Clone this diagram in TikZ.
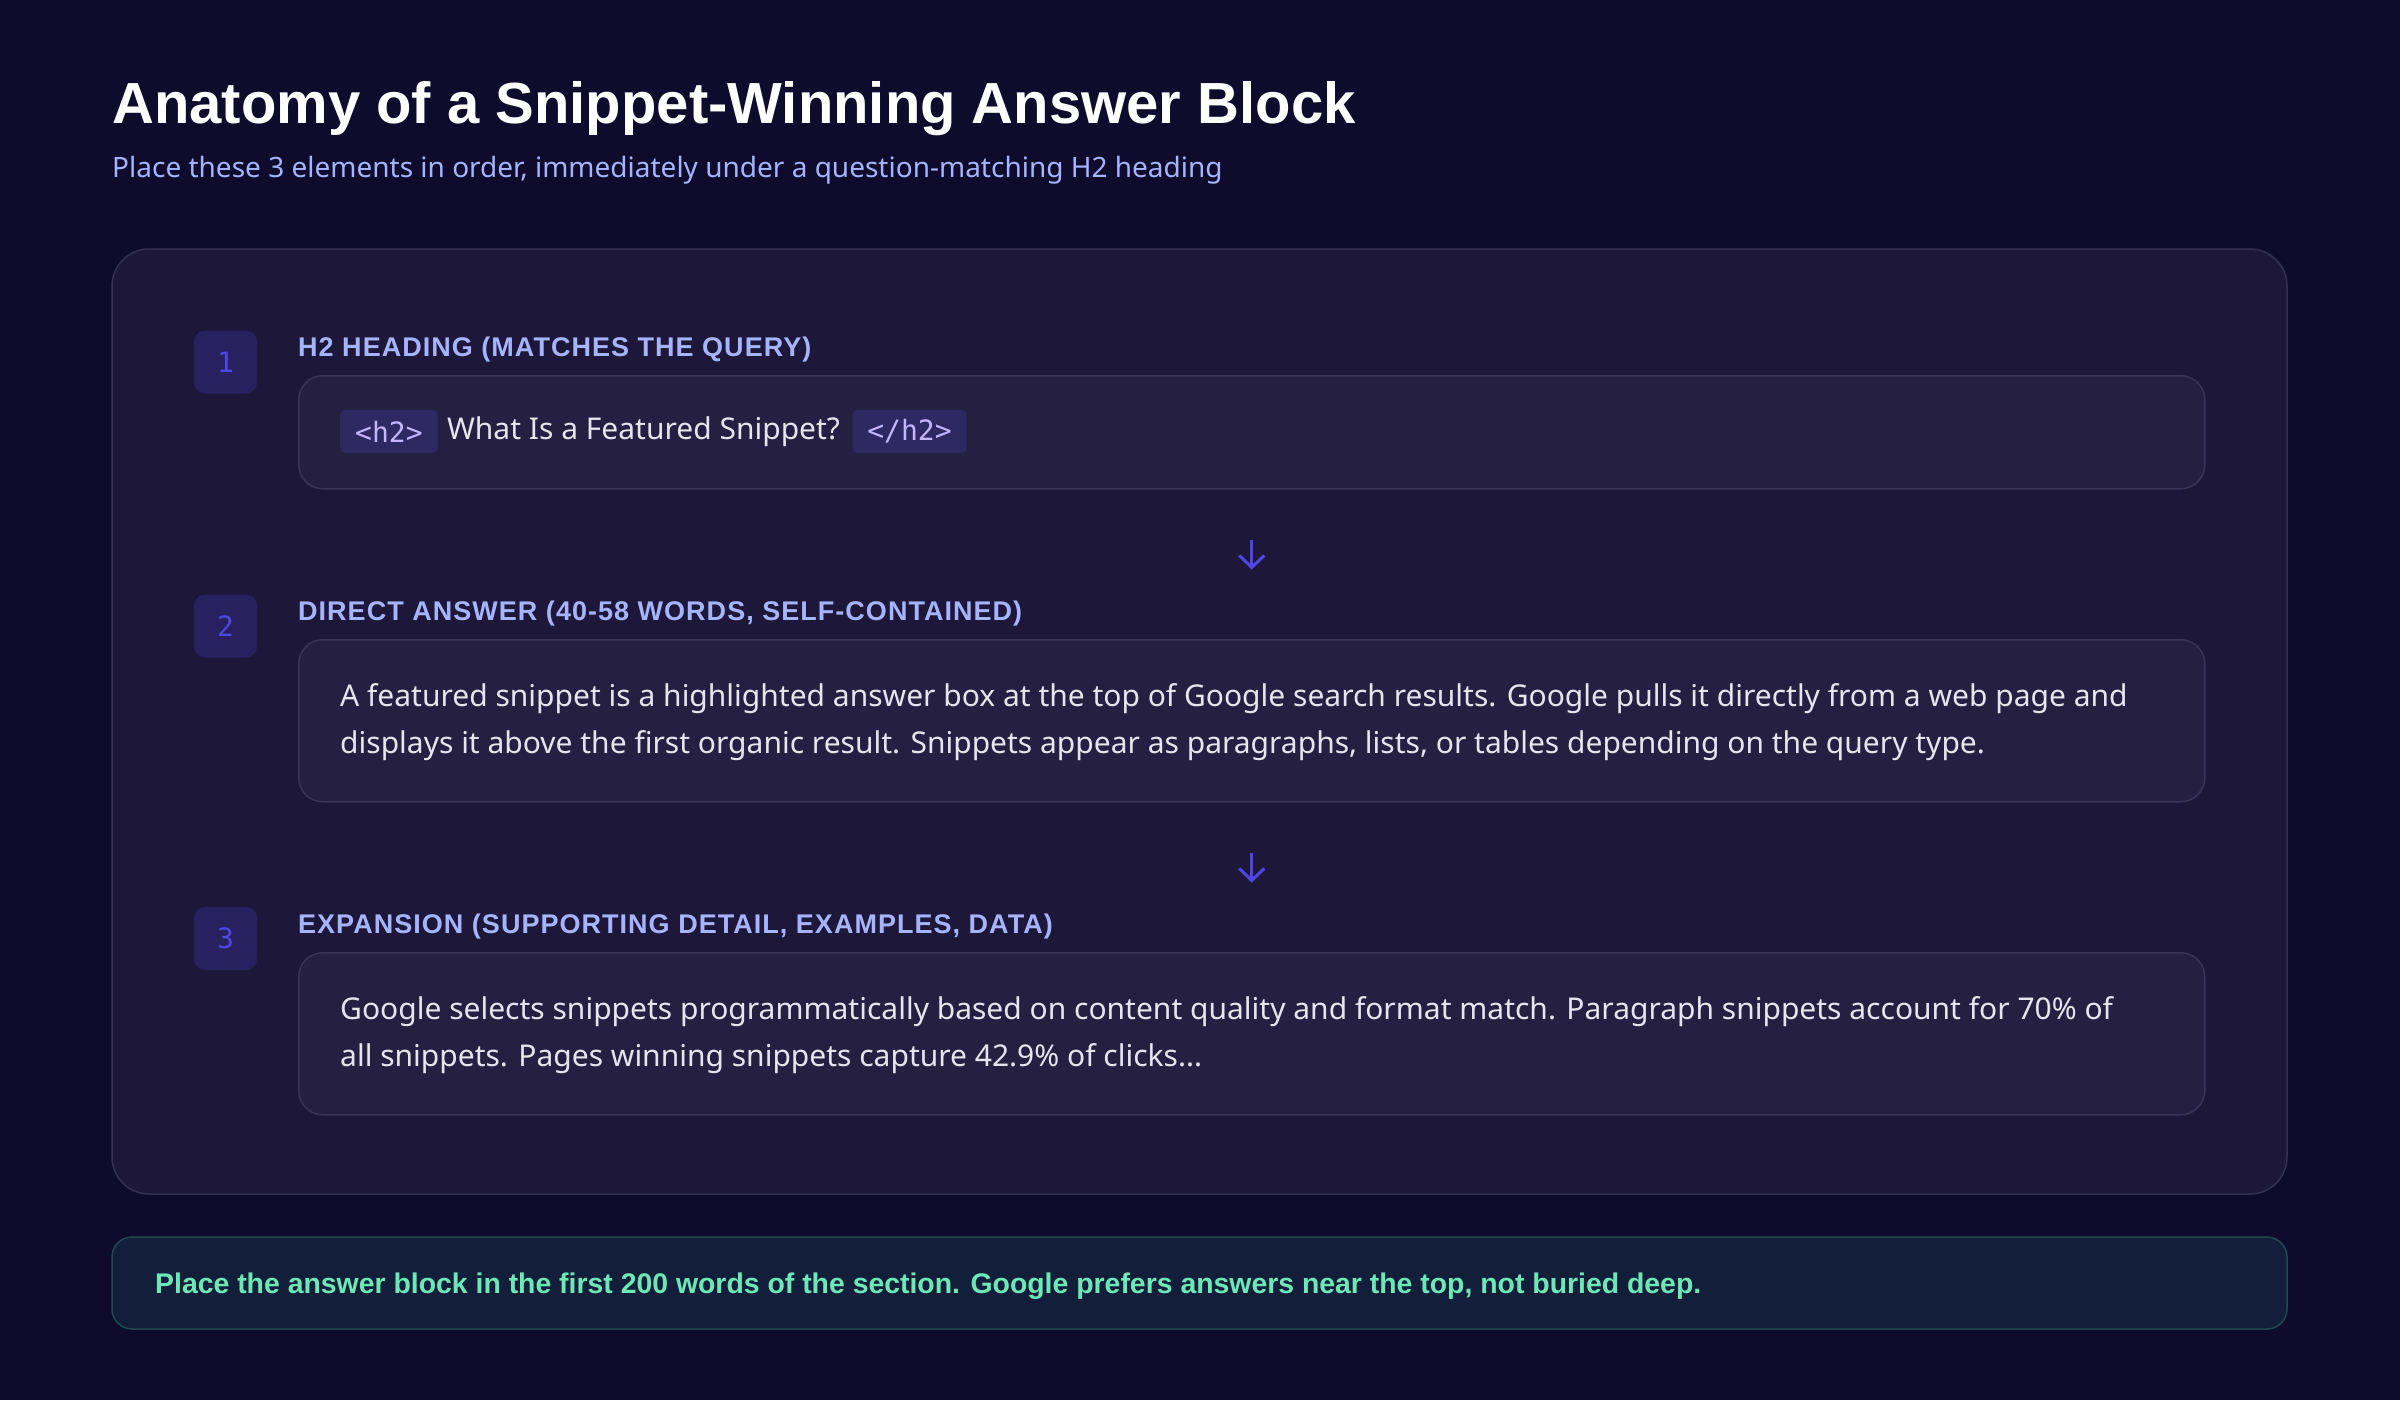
\documentclass[tikz,border=0pt]{standalone}
\usepackage{fontspec}
\setmainfont{Noto Sans}
\setmonofont{DejaVu Sans Mono}
\newfontfamily\headfont{Liberation Sans}
\usetikzlibrary{positioning,arrows.meta}

\definecolor{pagebg}{HTML}{0F0B2D}
\definecolor{panelbg}{HTML}{1D1839}
\definecolor{panelline}{HTML}{34304F}
\definecolor{boxbg}{HTML}{252041}
\definecolor{boxline}{HTML}{3A3558}
\definecolor{badgebg}{HTML}{282160}
\definecolor{indigo}{HTML}{4F46E5}
\definecolor{lavender}{HTML}{A5B4FC}
\definecolor{tagbg}{HTML}{2F2862}
\definecolor{tagtext}{HTML}{C4B5FD}
\definecolor{bodytext}{HTML}{E6E4EF}
\definecolor{tipbg}{HTML}{131F3A}
\definecolor{tipline}{HTML}{1F4A50}
\definecolor{tiptext}{HTML}{6EE7B7}

\begin{document}
\begin{tikzpicture}[x=1pt,y=-1pt,
  panel/.style={draw=panelline,line width=1.5,fill=panelbg,rounded corners=37},
  answer box/.style={draw=boxline,line width=1.5,fill=boxbg,rounded corners=24,anchor=north west,minimum width=1906,inner sep=0},
  badge/.style={fill=badgebg,rounded corners=11,minimum size=63,inner sep=0,text=indigo,font=\ttfamily\fontsize{28}{30}\selectfont},
  step label/.style={anchor=base west,inner sep=0,text=lavender,font=\headfont\bfseries\fontsize{27}{30}\selectfont\addfontfeature{LetterSpace=3.8}},
  bodytxt/.style={anchor=base west,inner sep=0,text=bodytext,align=left,font=\fontsize{30}{47}\selectfont},
  tagbox/.style={fill=tagbg,rounded corners=5,minimum height=43,inner xsep=15,inner ysep=0,text=tagtext,font=\ttfamily\fontsize{28}{30}\selectfont},
  down arrow/.style={draw=indigo,line width=3,-{Straight Barb[length=12,width=25]}}]

% page and frame
\fill [pagebg] (0,0) rectangle (2400,1400);
\useasboundingbox (0,0) rectangle (2400,1400);
\node [anchor=base west,inner sep=0,text=white,font=\headfont\bfseries\fontsize{58}{60}\selectfont](title) at (112,123) {Anatomy of a Snippet-Winning Answer Block};
\node [anchor=base west,inner sep=0,text=lavender,font=\fontsize{28}{30}\selectfont](subtitle) at (112,177) {Place these 3 elements in order, immediately under a question-matching H2 heading};
\draw [panel] (112,249) rectangle (2287,1194);

% step 1
\node [badge](n1) at (225.5,362) {1};
\node [step label](lab1) at (298,356) {H2 HEADING (MATCHES THE QUERY)};
\node [answer box,minimum height=113](box1) at (298,375) {};
\node [tagbox,anchor=west](open) at (340,431.5) {<h2>};
\node [right=9pt of open,inner sep=0,text=bodytext,font=\fontsize{30}{34}\selectfont](question) {What Is a Featured Snippet?};
\node [tagbox,right=12pt of question](close) {</h2>};

% step 2
\node [badge](n2) at (225.5,626) {2};
\node [step label](lab2) at (298,620) {DIRECT ANSWER (40-58 WORDS, SELF-CONTAINED)};
\node [answer box,minimum height=162](box2) at (298,639) {};
\node [bodytxt](answer) at (340,753) {A featured snippet is a highlighted answer box at the top of Google search results. Google pulls it directly from a web page and\\displays it above the first organic result. Snippets appear as paragraphs, lists, or tables depending on the query type.};

% step 3
\node [badge](n3) at (225.5,938.5) {3};
\node [step label](lab3) at (298,933) {EXPANSION (SUPPORTING DETAIL, EXAMPLES, DATA)};
\node [answer box,minimum height=162](box3) at (298,952) {};
\node [bodytxt](expansion) at (340,1066) {Google selects snippets programmatically based on content quality and format match. Paragraph snippets account for 70\% of\\all snippets. Pages winning snippets capture 42.9\% of clicks...};

% arrows between steps
\path (box1.south) ++(0,50) coordinate (a1) ++(0,30) coordinate (a1end);
\path (box2.south) ++(0,50) coordinate (a2) ++(0,30) coordinate (a2end);
\draw [down arrow] (a1) -- (a1end);
\draw [down arrow] (a2) -- (a2end);

% tip bar
\draw [draw=tipline,line width=1.5,fill=tipbg,rounded corners=20] (112,1237) rectangle (2287,1329);
\node [anchor=base west,inner sep=0,text=tiptext,font=\headfont\bfseries\fontsize{28.4}{30}\selectfont](tip) at (155,1293) {Place the answer block in the first 200 words of the section. Google prefers answers near the top, not buried deep.};
\end{tikzpicture}
\end{document}
